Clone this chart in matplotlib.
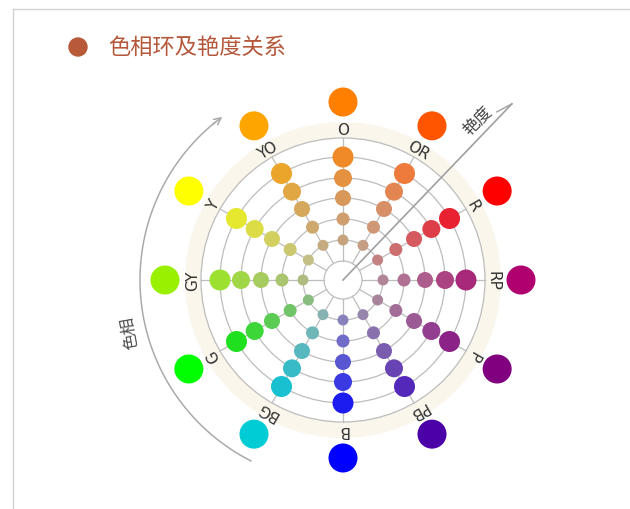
import numpy as np
import matplotlib
matplotlib.use("Agg")
from matplotlib import pyplot as plt
from matplotlib.patches import Circle, Wedge
from matplotlib.colors import to_rgb

plt.rcParams['font.family'] = ['Noto Sans CJK SC', 'DejaVu Sans']

# hue names, clockwise from the top
hues = ['O', 'OR', 'R', 'RP', 'P', 'PB', 'B', 'BG', 'G', 'GY', 'Y', 'YO']
# pure hue colours (outer big circles)
outer_colors = ['#FF8000', '#FF5500', '#FF0000', '#B0006F', '#800080', '#4B00A8',
                '#0000FF', '#00CCD6', '#00FF00', '#99F000', '#FFFF00', '#FFA500']
# most saturated inner dot of each hue
inner_colors = ['#F08A28', '#EE7B3C', '#E82230', '#A8287A', '#8A2288', '#5428B8',
                '#1C1CF0', '#18C0D0', '#1EE01E', '#9CE030', '#E6E830', '#EBA52A']
# saturation levels, outer ring to inner ring
saturation = [1.0, 0.8, 0.6, 0.45, 0.3]

title = '色相环及艳度关系'
hue_label = '色相'
chroma_label = '艳度'

# layout (pixels)
cx, cy = 343, 281
ring_r = [123, 102, 82, 61, 40]
dot_r = [10.5, 9, 8, 6.5, 5.5]
gray = '#B5ADA5'


def pt(r, deg):
    a = np.deg2rad(deg)
    return cx + r * np.cos(a), cy - r * np.sin(a)


def mix(c, s):
    c1, c2 = np.array(to_rgb(c)), np.array(to_rgb(gray))
    return tuple(c1 * s + c2 * (1 - s))


fig = plt.figure(figsize=(6.3, 5.1), dpi=100)
ax = fig.add_axes([0, 0, 1, 1])
ax.set_xlim(0, 630)
ax.set_ylim(510, 0)
ax.set_aspect('equal')
ax.axis('off')

# panel border
ax.plot([13, 630], [10, 10], color='#D2D2D2', lw=1)
ax.plot([13, 13], [10, 510], color='#D2D2D2', lw=1)

# title
ax.add_patch(Circle((78, 48), 9, color='#B85A3A'))
ax.text(108, 48, title, fontsize=16, color='#B5573A', va='center', ha='left')

# beige band + rings
ax.add_patch(Wedge((cx, cy), 158, 0, 360, width=16, color='#FAF6EC', lw=0))
for r in ring_r + [142, 19]:
    ax.add_patch(Circle((cx, cy), r, fill=False, ec='#BDBDBD', lw=0.9))

angles = [90 - 30 * i for i in range(len(hues))]
for i, h in enumerate(hues):
    th = angles[i]
    x0, y0 = pt(19, th)
    x1, y1 = pt(142, th)
    ax.plot([x0, x1], [y0, y1], color='#BDBDBD', lw=0.9, zorder=1)
    for r, dr, s in zip(ring_r, dot_r, saturation):
        ax.add_patch(Circle(pt(r, th), dr, color=mix(inner_colors[i], s), lw=0, zorder=3))
    ax.add_patch(Circle(pt(178, th), 14.5, color=outer_colors[i], lw=0, zorder=3))
    lx, ly = pt(150, th)
    ax.text(lx, ly, h, fontsize=11, color='#333333', ha='center', va='center',
            rotation=th - 90, rotation_mode='anchor', family='DejaVu Sans', zorder=4)

# hue arc with arrow
t = np.linspace(243, 129, 100)
ax.plot(cx + 203 * np.cos(np.deg2rad(t)), cy - 203 * np.sin(np.deg2rad(t)),
        color='#AAAAAA', lw=1.1)
ax.annotate('', xy=pt(203, 126.5), xytext=pt(203, 130),
            arrowprops=dict(arrowstyle='->', color='#AAAAAA', lw=1.1,
                            mutation_scale=12, shrinkA=0, shrinkB=0))
tx, ty = pt(219, 193.5)
ax.text(tx, ty, hue_label, fontsize=12, color='#505050', ha='center', va='center',
        rotation=100, rotation_mode='anchor')

# chroma axis
ex, ey = pt(244, 46.2)
ax.plot([cx, ex], [cy, ey], color='#A0A0A0', lw=1.2, zorder=5)
b = np.deg2rad(152)
ax.plot([ex, ex + 17 * np.cos(b)], [ey, ey + 17 * np.sin(b)], color='#A0A0A0', lw=1.0, zorder=5)
tx, ty = pt(209, 50)
ax.text(tx, ty, chroma_label, fontsize=12, color='#444444', ha='center', va='center',
        rotation=46, rotation_mode='anchor')

fig.savefig('out.png', dpi=100)
